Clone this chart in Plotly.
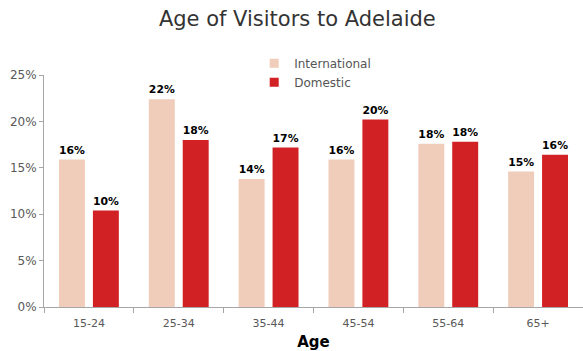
import plotly.graph_objects as go

# Age bands and share of visitors (%) by market
ages = ["15-24", "25-34", "35-44", "45-54", "55-64", "65+"]
international = [15.9, 22.4, 13.8, 15.9, 17.6, 14.6]
domestic = [10.4, 18.0, 17.2, 20.2, 17.8, 16.4]
y_ticks = [0, 5, 10, 15, 20, 25]

FONT = "DejaVu Sans"
TICK_COLOR = "#595959"
COLORS = {"International": "#F0CDBA", "Domestic": "#D22124"}

fig = go.Figure()
for name, values in (("International", international), ("Domestic", domestic)):
    fig.add_trace(go.Bar(
        name=name, x=ages, y=values, showlegend=False,
        marker=dict(color=COLORS[name], line=dict(width=0)),
        texttemplate="<b>%{y:.0f}%</b>", textposition="outside",
        textfont=dict(family=FONT, size=12, color="#000000"),
        cliponaxis=False,
    ))
    # small square swatch for the legend
    fig.add_trace(go.Scatter(
        name=name, x=[None], y=[None], mode="markers",
        marker=dict(symbol="square", size=9, color=COLORS[name]),
        showlegend=True, hoverinfo="skip",
    ))

fig.update_layout(
    width=583, height=351,
    margin=dict(l=44, r=0, t=75, b=44),
    paper_bgcolor="white", plot_bgcolor="white",
    barmode="group", bargap=0.245, bargroupgap=0.235,
    title=dict(
        text="Age of Visitors to Adelaide",
        x=0.51, xanchor="center", y=0.948, yanchor="middle",
        font=dict(family=FONT, size=21, color="#333333"),
    ),
    legend=dict(
        x=0.39, y=1.113, xanchor="left", yanchor="top",
        font=dict(family=FONT, size=12, color="#555555"),
        bgcolor="rgba(0,0,0,0)", itemwidth=30, tracegroupgap=0,
    ),
)

fig.update_xaxes(
    showline=True, linecolor="#A6A6A6", linewidth=1,
    ticks="outside", tickson="boundaries", ticklen=5, tickcolor="#A6A6A6",
    tickfont=dict(family=FONT, size=11, color=TICK_COLOR),
    ticklabelstandoff=6,
    range=[-0.5, 5.5], showgrid=False,
    title=dict(text="<b>Age</b>", font=dict(family=FONT, size=15, color="#000000"), standoff=8),
)
fig.update_yaxes(
    showline=True, linecolor="#A6A6A6", linewidth=1,
    ticks="outside", ticklen=4, tickcolor="#A6A6A6",
    tickvals=y_ticks, ticktext=[f"{v}%" for v in y_ticks],
    tickfont=dict(family=FONT, size=12, color=TICK_COLOR),
    range=[0, 25], showgrid=False, zeroline=False,
)

fig.write_html("out.html")
